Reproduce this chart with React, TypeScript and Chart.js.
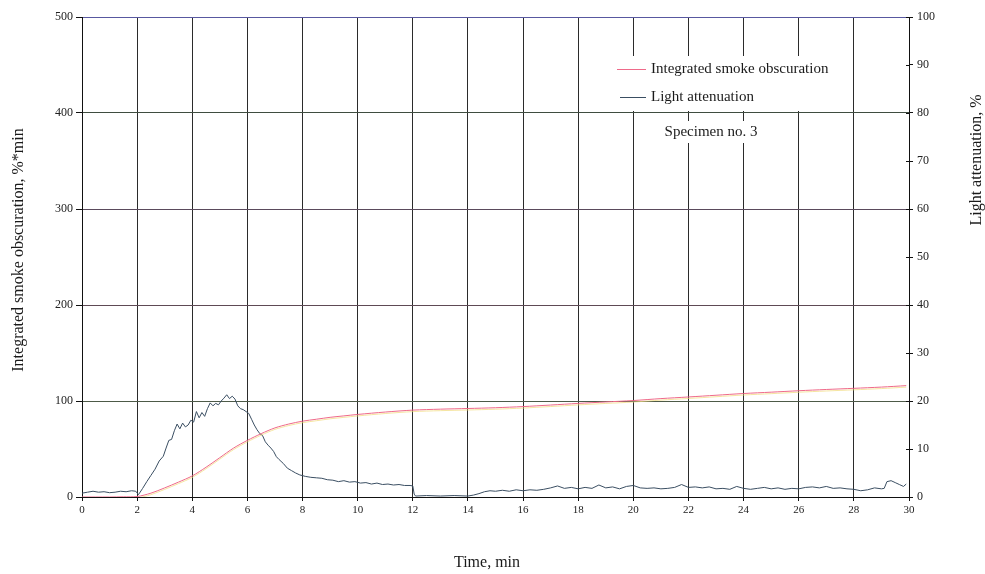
import { useEffect, useRef } from 'react';
import { Chart, registerables } from 'chart.js';

Chart.register(...registerables);

// Integrated smoke obscuration, %*min (left axis) : [time min, value]
const smokeObscuration: [number, number][] = [
  [0, 0], [0.5, 0], [1, 0], [1.5, 0.2], [2, 0.5], [2.5, 4], [3, 9.5], [3.5, 15.5],
  [4, 22], [4.5, 31], [5, 41], [5.5, 51], [6, 59], [6.5, 66], [7, 72], [7.5, 76],
  [8, 79], [8.5, 81], [9, 83], [9.5, 84.5], [10, 86], [11, 88.5], [12, 90.5],
  [13, 91.5], [14, 92.2], [15, 93], [16, 94.2], [17, 95.8], [18, 97.5], [19, 99],
  [20, 100.5], [21, 102.5], [22, 104.2], [23, 106], [24, 107.8], [25, 109.2],
  [26, 110.7], [27, 112], [28, 113.2], [29, 114.5], [29.9, 116],
];

// Light attenuation, % (right axis) : [time min, value]
const lightAttenuation: [number, number][] = [
  [0, 0.8], [0.2, 1.0], [0.4, 1.2], [0.6, 1.0], [0.8, 1.1], [1.0, 0.9], [1.2, 1.0],
  [1.4, 1.2], [1.6, 1.1], [1.8, 1.3], [1.95, 1.2], [2.05, 0.5],
  [2.2, 1.8], [2.35, 3.2], [2.5, 4.5], [2.65, 5.8], [2.8, 7.5], [2.95, 8.5],
  [3.05, 10.2], [3.15, 11.8], [3.25, 12.0], [3.35, 13.8], [3.45, 15.2], [3.55, 14.2],
  [3.65, 15.4], [3.75, 14.6], [3.85, 15.0], [3.95, 16.0], [4.05, 15.6], [4.15, 17.8],
  [4.25, 16.5], [4.35, 17.6], [4.45, 16.8], [4.55, 18.4], [4.65, 19.6], [4.75, 19.0],
  [4.85, 19.5], [4.95, 19.2], [5.05, 20.0], [5.15, 20.6], [5.25, 21.3], [5.35, 20.5],
  [5.45, 21.0], [5.55, 20.4], [5.65, 19.0], [5.75, 18.4], [5.85, 18.2], [5.95, 17.8],
  [6.05, 17.4], [6.15, 16.2], [6.25, 15.0], [6.35, 14.0], [6.45, 13.2], [6.55, 12.8],
  [6.65, 11.5], [6.75, 10.8], [6.85, 10.2], [6.95, 9.5], [7.05, 8.4], [7.15, 7.8],
  [7.3, 7.0], [7.45, 6.0], [7.6, 5.5], [7.75, 5.0], [7.9, 4.6], [8.1, 4.3],
  [8.3, 4.1], [8.5, 4.0], [8.7, 3.9], [8.9, 3.6], [9.1, 3.5], [9.3, 3.2], [9.5, 3.4],
  [9.7, 3.1], [9.9, 3.2], [10.1, 2.9], [10.3, 3.0], [10.5, 2.7], [10.7, 2.9],
  [10.9, 2.6], [11.1, 2.7], [11.3, 2.5], [11.5, 2.6], [11.7, 2.4], [11.9, 2.4],
  [12.0, 2.3], [12.05, 0.6], [12.1, 0.2], [12.5, 0.3], [13, 0.2], [13.5, 0.3],
  [14, 0.2], [14.2, 0.4], [14.4, 0.7], [14.6, 1.1], [14.8, 1.3], [15, 1.2],
  [15.25, 1.4], [15.5, 1.2], [15.75, 1.5], [16, 1.3], [16.25, 1.5], [16.5, 1.4],
  [16.75, 1.6], [17, 1.9], [17.25, 2.3], [17.5, 1.8], [17.75, 2.0], [18, 1.7],
  [18.25, 2.0], [18.5, 1.8], [18.75, 2.5], [19, 1.9], [19.25, 2.1], [19.5, 1.7],
  [19.75, 2.2], [20, 2.4], [20.25, 1.9], [20.5, 1.8], [20.75, 1.9], [21, 1.7],
  [21.25, 1.8], [21.5, 2.0], [21.75, 2.6], [22, 2.0], [22.25, 2.1], [22.5, 1.9],
  [22.75, 2.1], [23, 1.7], [23.25, 1.8], [23.5, 1.6], [23.75, 2.2], [24, 1.8],
  [24.25, 1.6], [24.5, 1.8], [24.75, 2.0], [25, 1.7], [25.25, 1.9], [25.5, 1.6],
  [25.75, 1.8], [26, 1.7], [26.25, 2.0], [26.5, 2.1], [26.75, 1.9], [27, 2.2],
  [27.25, 1.8], [27.5, 1.9], [27.75, 1.7], [28, 1.6], [28.25, 1.3], [28.5, 1.5],
  [28.75, 1.9], [29, 1.7], [29.1, 1.8], [29.2, 3.2], [29.35, 3.4], [29.5, 3.0],
  [29.65, 2.6], [29.8, 2.2], [29.9, 2.7],
];

const seriesNames = ['Integrated smoke obscuration', 'Light attenuation'];
const seriesColors = ['#ef6a8a', '#3a4e62'];
const xTitle = 'Time, min';
const leftTitle = 'Integrated smoke obscuration, %*min';
const rightTitle = 'Light attenuation, %';
const noteText = 'Specimen no. 3';
const gridColorsByValue: Record<number, string> = {
  0: '#111111', 100: '#4d5a48', 200: '#5e4a55', 300: '#5a4a5c', 400: '#3f4d40', 500: '#5858a0',
};

const SERIF = '"Liberation Serif", "Times New Roman", serif';

export default function App() {
  const ref = useRef<HTMLCanvasElement | null>(null);

  useEffect(() => {
    if (!ref.current) return;

    const decor = {
      id: 'decor',
      beforeDatasetDraw(chart: any, args: any) {
        if (args.index === 0) {
          chart.ctx.save();
          chart.ctx.shadowColor = 'rgba(242, 220, 130, 0.75)';
          chart.ctx.shadowOffsetY = 1.5;
          chart.ctx.shadowOffsetX = 0;
          chart.ctx.shadowBlur = 0;
        }
      },
      afterDatasetDraw(chart: any, args: any) {
        if (args.index === 0) chart.ctx.restore();
      },
      afterDraw(chart: any) {
        const ctx = chart.ctx;
        const y1 = chart.scales.y1;
        const right = chart.chartArea.right;
        ctx.save();
        // inner tick marks on right axis
        ctx.strokeStyle = '#111';
        ctx.lineWidth = 1;
        for (let v = 0; v <= 100; v += 10) {
          const py = Math.round(y1.getPixelForValue(v)) + 0.5;
          ctx.beginPath();
          ctx.moveTo(right - 3, py);
          ctx.lineTo(right, py);
          ctx.stroke();
        }
        // legend box
        ctx.fillStyle = '#ffffff';
        ctx.fillRect(592, 56, 254, 55);
        ctx.font = `15px ${SERIF}`;
        ctx.textBaseline = 'middle';
        ctx.textAlign = 'left';
        const rows = [69.5, 97.5];
        rows.forEach((ry, i) => {
          ctx.strokeStyle = seriesColors[i];
          ctx.lineWidth = 1;
          ctx.beginPath();
          ctx.moveTo(i === 0 ? 617 : 620, ry);
          ctx.lineTo(646, ry);
          ctx.stroke();
          ctx.fillStyle = '#1a1a1a';
          ctx.fillText(seriesNames[i], 651, ry);
        });
        // specimen note
        ctx.fillStyle = '#ffffff';
        ctx.fillRect(656, 121, 112, 22);
        ctx.fillStyle = '#1a1a1a';
        ctx.textAlign = 'center';
        ctx.fillText(noteText, 711, 132);
        // axis titles
        ctx.font = `16px ${SERIF}`;
        ctx.fillText(xTitle, 487, 563);
        ctx.save();
        ctx.translate(19, 250);
        ctx.rotate(-Math.PI / 2);
        ctx.fillText(leftTitle, 0, 0);
        ctx.restore();
        ctx.save();
        ctx.translate(977, 160);
        ctx.rotate(-Math.PI / 2);
        ctx.fillText(rightTitle, 0, 0);
        ctx.restore();
        ctx.restore();
      },
    };

    const chart = new Chart(ref.current, {
      type: 'line',
      data: {
        datasets: [
          {
            label: seriesNames[0],
            data: smokeObscuration.map(([x, y]) => ({ x, y })),
            yAxisID: 'y',
            borderColor: seriesColors[0],
            borderWidth: 1,
            pointRadius: 0,
            tension: 0.3,
            fill: false,
          },
          {
            label: seriesNames[1],
            data: lightAttenuation.map(([x, y]) => ({ x, y })),
            yAxisID: 'y1',
            borderColor: seriesColors[1],
            borderWidth: 1,
            pointRadius: 0,
            tension: 0,
            fill: false,
          },
        ],
      },
      options: {
        responsive: false,
        animation: false,
        layout: { padding: { top: 17, left: 0, right: 0, bottom: 0 } },
        plugins: {
          legend: { display: false },
          tooltip: { enabled: false },
        },
        scales: {
          x: {
            type: 'linear',
            min: 0,
            max: 30,
            afterFit: (s: any) => { s.height = 77; },
            ticks: { stepSize: 2, font: { family: SERIF, size: 11 }, color: '#222', padding: 3, maxRotation: 0 },
            grid: { color: '#2b2b2b', lineWidth: 1, tickLength: 4, tickColor: '#111' },
            border: { color: '#111', width: 1 },
          },
          y: {
            type: 'linear',
            position: 'left',
            min: 0,
            max: 500,
            afterFit: (s: any) => { s.width = 82; },
            ticks: { stepSize: 100, font: { family: SERIF, size: 12 }, color: '#222', padding: 3 },
            grid: {
              color: (c: any) => gridColorsByValue[c.tick?.value] ?? '#444',
              tickColor: '#111',
              lineWidth: 1,
              tickLength: 6,
            },
            border: { color: '#111', width: 1 },
          },
          y1: {
            type: 'linear',
            position: 'right',
            min: 0,
            max: 100,
            afterFit: (s: any) => { s.width = 76; },
            ticks: { stepSize: 10, font: { family: SERIF, size: 12 }, color: '#222', padding: 4 },
            grid: { drawOnChartArea: false, tickLength: 4, color: '#111' },
            border: { color: '#111', width: 1 },
          },
        },
      },
      plugins: [decor],
    });
    return () => chart.destroy();
  }, []);

  return (
    <div style={{ position: 'absolute', left: 0, top: 0, width: 985, height: 574, background: '#fff' }}>
      <canvas ref={ref} width={985} height={574} />
    </div>
  );
}
